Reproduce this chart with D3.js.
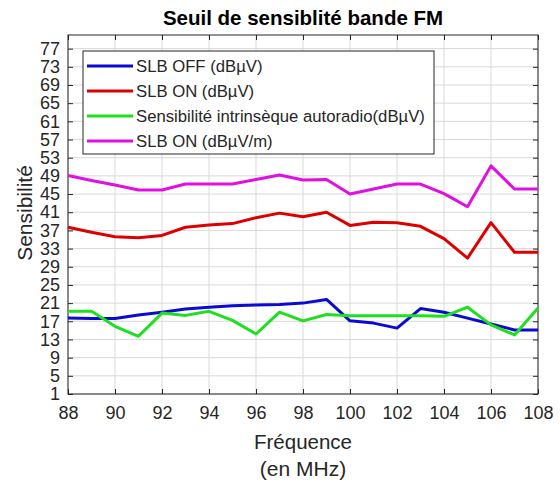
<!DOCTYPE html>
<html>
<head>
<meta charset="utf-8">
<script src="https://cdn.jsdelivr.net/npm/d3@7"></script>
<style>
  body { margin: 0; background: #fff; }
  svg { font-family: "Liberation Sans", Arial, sans-serif; }
</style>
</head>
<body>
<svg id="chart" width="560" height="483"></svg>
<script>
// frequencies in MHz
const freqs = d3.range(88, 109);

const slbOff = [17.7, 17.6, 17.6, 18.4, 19.0, 19.7, 20.1, 20.4, 20.6, 20.7, 21.0, 21.8,
  17.1, 16.6, 15.5, 19.8, 19.0, 17.7, 16.4, 15.1, 15.1];
const slbOn = [37.7, 36.6, 35.6, 35.4, 35.9, 37.7, 38.2, 38.5, 39.8, 40.8, 40.0, 41.0,
  38.1, 38.8, 38.7, 37.9, 35.2, 30.9, 38.7, 32.2, 32.2];
const intrinseque = [19.2, 19.2, 15.9, 13.7, 18.8, 18.3, 19.2, 17.2, 14.2, 19.0, 17.1, 18.5,
  18.2, 18.2, 18.2, 18.2, 18.1, 20.1, 16.2, 14.0, 19.9];
const slbOnM = [49.1, 48.0, 47.0, 45.9, 45.9, 47.2, 47.2, 47.2, 48.2, 49.2, 48.1, 48.2,
  45.0, 46.1, 47.2, 47.2, 45.1, 42.2, 51.2, 46.1, 46.1];

const seriesNames = ['SLB OFF (dBµV)', 'SLB ON (dBµV)',
  'Sensibilité intrinsèque autoradio(dBµV)', 'SLB ON (dBµV/m)'];
const seriesColors = ['#0a0ad0', '#dc0000', '#1ee01e', '#e010e0'];
const seriesValues = [slbOff, slbOn, intrinseque, slbOnM];

const xTicks = d3.range(88, 109, 2);
const yTicks = d3.range(1, 78, 4);

const svg = d3.select('#chart');
const margin = { left: 68, right: 22, top: 35, bottom: 89 };
const width = 560 - margin.left - margin.right;
const height = 483 - margin.top - margin.bottom;

const x = d3.scaleLinear().domain([88, 108]).range([0, width]);
const y = d3.scaleLinear().domain([1, 80]).range([height, 0]);

const g = svg.append('g')
  .attr('transform', `translate(${margin.left},${margin.top})`);

// grid
g.append('g')
  .selectAll('line')
  .data(xTicks)
  .join('line')
  .attr('x1', d => x(d)).attr('x2', d => x(d))
  .attr('y1', 0).attr('y2', height)
  .attr('stroke', '#d9d9d9').attr('stroke-width', 1);

g.append('g')
  .selectAll('line')
  .data(yTicks)
  .join('line')
  .attr('x1', 0).attr('x2', width)
  .attr('y1', d => y(d)).attr('y2', d => y(d))
  .attr('stroke', '#d9d9d9').attr('stroke-width', 1);

// axes, ticks inside like matlab
const xAxis = d3.axisBottom(x).tickValues(xTicks).tickSizeInner(-5).tickSizeOuter(0).tickPadding(12);
const yAxis = d3.axisLeft(y).tickValues(yTicks).tickSizeInner(-5).tickSizeOuter(0).tickPadding(8);

const gx = g.append('g').attr('transform', `translate(0,${height})`).call(xAxis);
const gy = g.append('g').call(yAxis);
g.append('g').call(d3.axisTop(x).tickValues(xTicks).tickSizeInner(-5).tickSizeOuter(0).tickFormat(''));
g.append('g').attr('transform', `translate(${width},0)`)
  .call(d3.axisRight(y).tickValues(yTicks).tickSizeInner(-5).tickSizeOuter(0).tickFormat(''));

g.selectAll('.domain').remove();
g.selectAll('.tick line').attr('stroke', '#262626');
[gx, gy].forEach(a => a.selectAll('text')
  .attr('fill', '#262626')
  .style('font-size', '18px'));

g.append('rect')
  .attr('width', width).attr('height', height)
  .attr('fill', 'none').attr('stroke', '#262626').attr('stroke-width', 1);

// lines
const line = d3.line()
  .x((d, i) => x(freqs[i]))
  .y(d => y(d));

g.selectAll('path.serie')
  .data(seriesValues)
  .join('path')
  .attr('class', 'serie')
  .attr('d', line)
  .attr('fill', 'none')
  .attr('stroke', (d, i) => seriesColors[i])
  .attr('stroke-width', 3)
  .attr('stroke-linejoin', 'round');

// legend
const leg = svg.append('g').attr('transform', 'translate(83,51)');
leg.append('rect')
  .attr('width', 351).attr('height', 103)
  .attr('fill', '#fff').attr('stroke', '#262626').attr('stroke-width', 1);
const rows = leg.selectAll('g.row')
  .data(seriesNames)
  .join('g')
  .attr('transform', (d, i) => `translate(0,${15 + i * 25})`);
rows.append('line')
  .attr('x1', 4).attr('x2', 50)
  .attr('stroke', (d, i) => seriesColors[i])
  .attr('stroke-width', 3);
rows.append('text')
  .attr('x', 53).attr('dy', '0.35em')
  .attr('fill', '#262626')
  .style('font-size', '16.7px')
  .text(d => d);

// titles
svg.append('text')
  .attr('x', margin.left + width / 2).attr('y', 25)
  .attr('text-anchor', 'middle')
  .style('font-size', '20.5px').style('font-weight', 'bold')
  .text('Seuil de sensiblité bande FM');

svg.append('text')
  .attr('x', margin.left + width / 2).attr('y', 449)
  .attr('text-anchor', 'middle')
  .attr('fill', '#262626')
  .style('font-size', '20.5px')
  .text('Fréquence');
svg.append('text')
  .attr('x', margin.left + width / 2).attr('y', 476)
  .attr('text-anchor', 'middle')
  .attr('fill', '#262626')
  .style('font-size', '21px')
  .text('(en MHz)');

svg.append('text')
  .attr('transform', 'translate(32,213) rotate(-90)')
  .attr('text-anchor', 'middle')
  .attr('fill', '#262626')
  .style('font-size', '21px')
  .text('Sensibilité');
</script>
</body>
</html>
